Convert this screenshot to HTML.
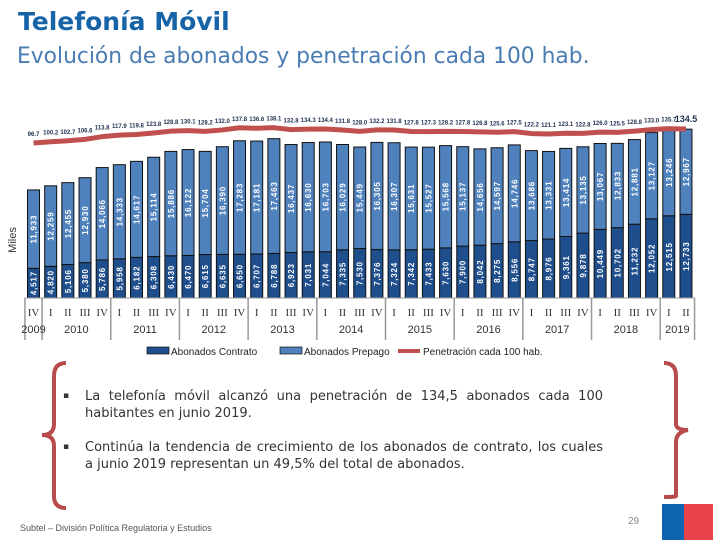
<!DOCTYPE html>
<html><head><meta charset="utf-8"><style>
body{margin:0;width:720px;height:540px;overflow:hidden;background:#fff;font-family:"Liberation Sans","DejaVu Sans",sans-serif;position:relative}
.abs{position:absolute}
#title{left:18px;top:7px;font-size:25px;font-weight:bold;color:#1763a8;font-family:"DejaVu Sans",sans-serif}
#sub{left:17px;top:44px;font-size:21.8px;color:#4a7cb4;font-family:"DejaVu Sans",sans-serif}
.bul{font-family:"DejaVu Sans",sans-serif;font-size:13px;color:#333;line-height:17px;width:540px;text-align:justify}
</style></head><body>
<div class="abs" id="title">Telefonía Móvil</div>
<div class="abs" id="sub">Evolución de abonados y penetración cada 100 hab.</div>
<svg class="abs" style="left:0;top:0" width="720" height="540" id="chart">
<text x="16" y="240" font-size="11" fill="#333" transform="rotate(-90 16 240)" text-anchor="middle">Miles</text>
</svg>
<div class="abs bul" style="left:63px;top:388px"><span style="position:absolute;left:0;font-size:9px">▪</span><div style="margin-left:22px">La telefonía móvil alcanzó una penetración de 134,5 abonados cada 100 habitantes en junio 2019.</div></div>
<div class="abs bul" style="left:63px;top:439px"><span style="position:absolute;left:0;font-size:9px">▪</span><div style="margin-left:22px">Continúa la tendencia de crecimiento de los abonados de contrato, los cuales a junio 2019 representan un 49,5% del total de abonados.</div></div>
<div class="abs" style="left:20px;top:523px;font-size:9px;color:#555">Subtel – División Política Regulatoria y Estudios</div>
<div class="abs" style="left:628px;top:516px;font-size:10px;color:#888">29</div>
<div class="abs" style="left:662px;top:504px;width:22px;height:36px;background:#0f64b0"></div>
<div class="abs" style="left:684px;top:504px;width:29px;height:36px;background:#e8434a"></div>
<script>
const quarters=["IV","I","II","III","IV","I","II","III","IV","I","II","III","IV","I","II","III","IV","I","II","III","IV","I","II","III","IV","I","II","III","IV","I","II","III","IV","I","II","III","IV","I","II"];
const years=["2009","2010","2011","2012","2013","2014","2015","2016","2017","2018","2019"];
const yearStart=[0,1,5,9,13,17,21,25,29,33,37];
const contrato=[4517,4820,5106,5380,5786,5958,6182,6308,6430,6470,6615,6635,6650,6707,6788,6923,7031,7044,7335,7530,7376,7324,7342,7433,7630,7900,8042,8275,8556,8747,8976,9361,9878,10449,10702,11232,12052,12515,12733];
const prepago=[11933,12259,12455,12930,14066,14333,14617,15114,15886,16122,15704,16390,17283,17181,17463,16437,16630,16703,16029,15449,16305,16307,15631,15527,15568,15137,14656,14597,14746,13686,13331,13414,13135,13067,12833,12881,13127,13246,12967];
const penetracion=[96.7,100.2,102.7,106.6,113.8,117.9,119.8,123.8,128.8,130.1,128.2,132.0,137.8,136.6,138.1,132.8,134.3,134.4,131.8,128.0,132.2,131.8,127.8,127.3,128.2,127.8,126.8,125.6,127.5,122.2,121.1,123.1,122.8,126.0,125.5,128.8,133.0,135.7,134.5];
const NS="http://www.w3.org/2000/svg";
const svg=document.getElementById('chart');
const base=298, step=17.17, x0=33.5, bw=12;
const xs=i=>x0+i*step;
const ys=v=>base-v*0.00657;
const yp=v=>143-(v-96.7)*0.37;
function mk(tag,attrs){const e=document.createElementNS(NS,tag);for(const k in attrs)e.setAttribute(k,attrs[k]);svg.appendChild(e);return e;}
const fmt=v=>v.toLocaleString('en-US');
for(let i=0;i<contrato.length;i++){
  const x=xs(i)-bw/2;
  const yc=ys(contrato[i]), yt=ys(contrato[i]+prepago[i]);
  const r1=mk('rect',{x:x,y:yc,width:bw,height:base-yc,fill:'#1f4e8c',stroke:'#111',"stroke-width":1});
  
  
  const r2=mk('rect',{x:x,y:yt,width:bw,height:yc-yt,fill:'#4f81bd',stroke:'#111',"stroke-width":1});
  
  
  const cx=xs(i)+3;
  const t1=mk('text',{x:cx,y:(base+yc)/2,"font-size":8,"font-weight":"bold",fill:"#fff","text-anchor":"middle","letter-spacing":"0.8",transform:`rotate(-90 ${cx} ${(base+yc)/2})`});
  t1.textContent=fmt(contrato[i]);
  
  
  const t2=mk('text',{x:cx,y:(yc+yt)/2,"font-size":8,"font-weight":"bold",fill:"#fff","text-anchor":"middle","letter-spacing":"0.8",transform:`rotate(-90 ${cx} ${(yc+yt)/2})`});
  t2.textContent=fmt(prepago[i]);
  
  
  const q=mk('text',{x:xs(i),y:316,"font-size":11,fill:"#333","text-anchor":"middle","font-family":"Liberation Serif,serif"});
  q.textContent=quarters[i];
  
  
}
let pts=penetracion.map((v,i)=>xs(i)+','+yp(v)).join(' ');
const pl=mk('polyline',{points:pts,fill:'none',stroke:'#c0504d',"stroke-width":5,"stroke-linejoin":"round"});


penetracion.forEach((v,i)=>{
  const last=i===penetracion.length-1;
  const t=mk('text',{x:xs(i),y:yp(v)-7,"font-size":last?9:6,"font-weight":"bold",fill:"#1f3050","text-anchor":"middle"});
  t.textContent=v.toFixed(1);
  
  
});
const bounds=yearStart.concat([contrato.length]);
bounds.forEach(b=>{
  const x=xs(b)-step/2;
  const l=mk('line',{x1:x,y1:base,x2:x,y2:340,stroke:'#999',"stroke-width":1.5});
  
  
});
years.forEach((y,k)=>{
  const a=bounds[k],b=bounds[k+1]-1;
  const t=mk('text',{x:(xs(a)+xs(b))/2,y:333,"font-size":11,fill:"#333","text-anchor":"middle"});
  t.textContent=y;
  
  
});
const bl=mk('line',{x1:xs(0)-step/2,y1:base,x2:xs(contrato.length)-step/2,y2:base,stroke:'#999'});


[[147,'#1f4e8c','Abonados Contrato','legend-contrato'],[280,'#4f81bd','Abonados Prepago','legend-prepago']].forEach(d=>{
  const r=mk('rect',{x:d[0],y:347,width:22,height:7,fill:d[1],stroke:'#111',"stroke-width":0.7});
  
  
  const t=mk('text',{x:d[0]+24,y:355,"font-size":10,fill:"#222"});
  t.textContent=d[2];
  
  
});
const ll=mk('line',{x1:398,y1:351,x2:420,y2:351,stroke:'#c0504d',"stroke-width":4});


const lt=mk('text',{x:423,y:355,"font-size":10,fill:"#222"});
lt.textContent='Penetración cada 100 hab.';


const b1=mk('path',{d:'M66,363 Q54,363 54,376 L54,424 Q54,435 42,435 Q54,435 54,446 L54,496 Q54,508 66,508',fill:'none',stroke:'#b84c4c',"stroke-width":4});


const b2=mk('path',{d:'M664,363 Q676,363 676,376 L676,424 Q676,430 688,430 Q676,432 676,442 L676,496 Q676,497 664,497',fill:'none',stroke:'#b84c4c',"stroke-width":4});


</script>
</body></html>
